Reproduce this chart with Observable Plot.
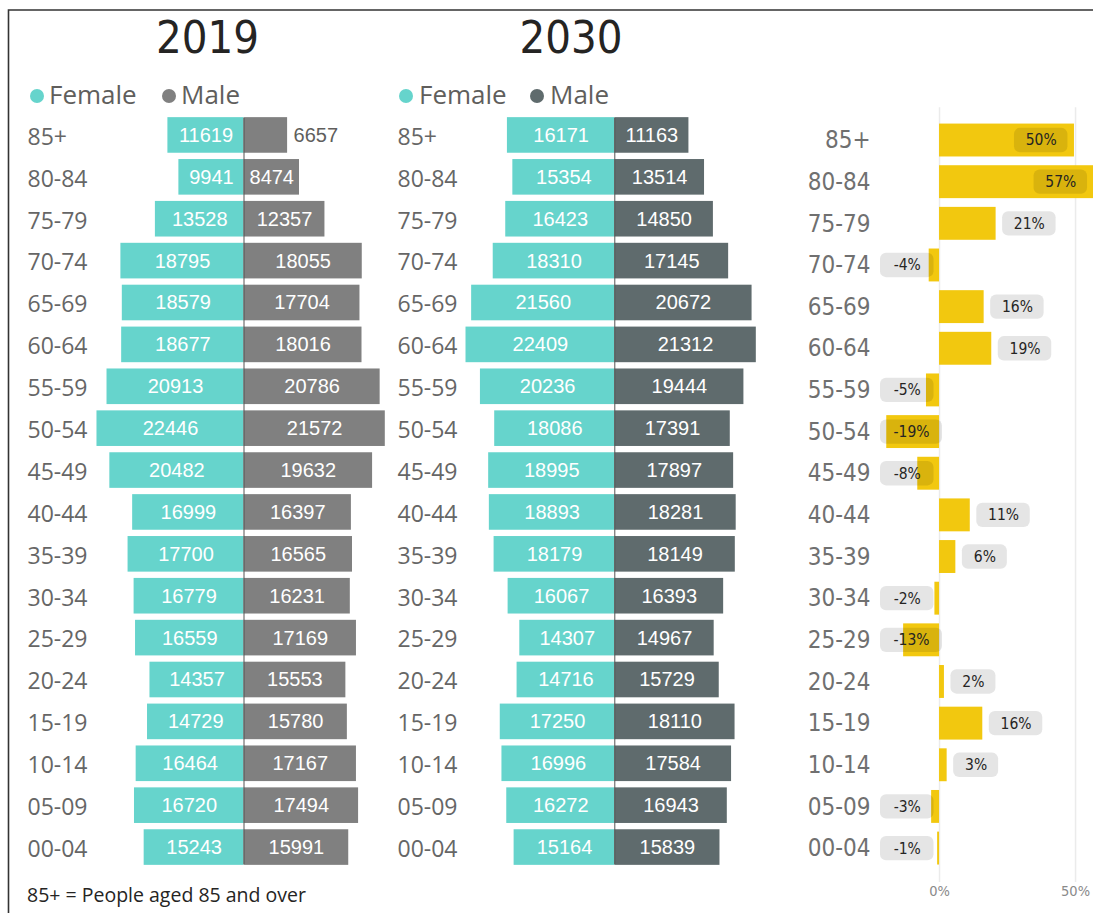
<!DOCTYPE html>
<html>
<head>
<meta charset="utf-8">
<script src="https://cdn.jsdelivr.net/npm/d3@7"></script>
<script src="https://cdn.jsdelivr.net/npm/@observablehq/plot@0.6"></script>
<style>
  body { margin: 0; background: #fff; }
  #root { position: relative; width: 1093px; height: 913px; overflow: hidden; background: #fff; }
  .panel { position: absolute; top: 0; }
  #overlay { position: absolute; left: 0; top: 0; pointer-events: none; }
</style>
</head>
<body>
<div id="root"></div>
<script>
// ---------------- data ----------------
const ages = ["85+","80-84","75-79","70-74","65-69","60-64","55-59","50-54","45-49","40-44","35-39","30-34","25-29","20-24","15-19","10-14","05-09","00-04"];
const female2019 = [11619,9941,13528,18795,18579,18677,20913,22446,20482,16999,17700,16779,16559,14357,14729,16464,16720,15243];
const male2019   = [6657,8474,12357,18055,17704,18016,20786,21572,19632,16397,16565,16231,17169,15553,15780,17167,17494,15991];
const female2030 = [16171,15354,16423,18310,21560,22409,20236,18086,18995,18893,18179,16067,14307,14716,17250,16996,16272,15164];
const male2030   = [11163,13514,14850,17145,20672,21312,19444,17391,17897,18281,18149,16393,14967,15729,18110,17584,16943,15839];
const changePct  = [49.6,56.8,20.8,-3.8,16.4,19.2,-4.8,-19.4,-8.0,11.3,6.0,-1.7,-13.2,1.8,15.9,2.8,-2.9,-0.7];
const pctTicks   = [0, 50];

const FEMALE = "#66D4CC";
const MALE19 = "#808080";
const MALE30 = "#5F6B6D";
const YELLOW = "#F2C80F";
const LABEL_GREY = "#666666";

const root = document.getElementById("root");

function pyramid({female, male, maleColor, left, width, center, k, labelX}) {
  const rows = ages.map((a, i) => ({age: a, female: female[i], male: male[i]}));
  const lo = -23000, hi = 22000;
  const ml = center - (-lo) * k;
  const mr = width - (center + hi * k);
  const fits = d => d.male * k >= 52;
  const plot = Plot.plot({
    width, height: 913,
    marginTop: 114, marginBottom: 45, marginLeft: ml, marginRight: mr,
    style: {background: "transparent", overflow: "visible"},
    x: {domain: [lo, hi], axis: null},
    y: {domain: ages, paddingInner: 0.15, paddingOuter: 0.075, round: false, axis: null},
    marks: [
      Plot.barX(rows, {x1: d => -d.female, x2: 0, y: "age", fill: FEMALE}),
      Plot.barX(rows, {x1: 0, x2: "male", y: "age", fill: maleColor}),
      Plot.ruleX([0], {stroke: "#555", strokeWidth: 1, insetTop: 4, insetBottom: 4}),
      Plot.text(rows, {x: d => -d.female / 2, y: "age", text: d => String(d.female),
        fill: "white", fontSize: 20, fontFamily: "Liberation Sans, Arial, sans-serif"}),
      Plot.text(rows.filter(fits), {x: d => d.male / 2, y: "age", text: d => String(d.male),
        fill: "white", fontSize: 20, fontFamily: "Liberation Sans, Arial, sans-serif"}),
      Plot.text(rows.filter(d => !fits(d)), {x: "male", y: "age", text: d => String(d.male), dx: 6,
        textAnchor: "start", fill: "#605e5c", fontSize: 20, fontFamily: "Liberation Sans, Arial, sans-serif"}),
      Plot.text(ages, {y: d => d, text: d => d, frameAnchor: "left", textAnchor: "start",
        dx: labelX - ml, dy: 2, fill: LABEL_GREY, fontSize: 23, fontFamily: "Open Sans, sans-serif"})
    ]
  });
  plot.classList.add("panel");
  plot.style.left = left + "px";
  root.appendChild(plot);
}

pyramid({female: female2019, male: male2019, maleColor: MALE19, left: 0, width: 390, center: 243.5, k: 0.00655, labelX: 27});
pyramid({female: female2030, male: male2030, maleColor: MALE30, left: 390, width: 380, center: 224.3, k: 0.00664, labelX: 7});

// ------------- percent change panel -------------
(function () {
  const width = 323, ml = 110, mr = 0;
  const lo = -21.7, hi = 56.6;
  const ppu = (width - ml - mr) / (hi - lo);
  const rows = ages.map((a, i) => ({age: a, v: changePct[i], label: Math.round(changePct[i]) + "%"}));
  const pills = rows.map(d => {
    const w = (28 + 8.5 * d.label.length) / ppu;
    const gap = 6.5 / ppu;
    let x1, x2;
    if (d.v >= 0) {
      x1 = d.v + gap; x2 = x1 + w;
      if (x2 > hi) { x2 = d.v - gap; x1 = x2 - w; }
    } else {
      x2 = d.v - gap; x1 = x2 - w;
      if (x1 < lo) { x1 = lo; x2 = lo + w; }
    }
    return {...d, x1, x2};
  });
  const F = "DejaVu Sans Condensed, DejaVu Sans, sans-serif";
  const plot = Plot.plot({
    width, height: 913,
    marginTop: 119.2, marginBottom: 44.1, marginLeft: ml, marginRight: mr,
    style: {background: "transparent", overflow: "visible"},
    x: {domain: [lo, hi], axis: null},
    y: {domain: ages, paddingInner: 0.21, paddingOuter: 0.105, round: false, axis: null},
    marks: [
      Plot.ruleX(pctTicks, {stroke: "#ebebeb", strokeWidth: 1.5, insetTop: -12, insetBottom: -13}),
      Plot.barX(rows, {x1: 0, x2: "v", y: "age", fill: YELLOW}),
      Plot.barX(pills, {x1: "x1", x2: "x2", y: "age", fill: "black", fillOpacity: 0.1, rx: 6, insetTop: 4.3, insetBottom: 4.3}),
      Plot.text(pills, {x: d => (d.x1 + d.x2) / 2, y: "age", text: "label", fill: "#252423", fontSize: 15.5, fontFamily: F}),
      Plot.text(ages, {y: d => d, text: d => d, frameAnchor: "left", textAnchor: "end", dx: -10,
        fill: "#707070", fontSize: 24, fontFamily: F}),
      Plot.text(pctTicks, {x: d => d, text: d => d + "%", frameAnchor: "bottom", dy: 27,
        fill: "#8a8a8a", fontSize: 14.5, fontFamily: F})
    ]
  });
  plot.classList.add("panel");
  plot.style.left = "770px";
  root.appendChild(plot);
})();

// ------------- titles, legends, footnote, frame -------------
(function () {
  const svg = d3.select(root).append("svg").attr("id", "overlay").attr("width", 1093).attr("height", 913);
  svg.append("path").attr("d", "M8.5,913V10H1093").attr("fill", "none").attr("stroke", "#333").attr("stroke-width", 1.6);
  const titles = [{t: "2019", x: 207.5}, {t: "2030", x: 571}];
  svg.selectAll("text.title").data(titles).join("text").attr("class", "title")
    .attr("x", d => d.x).attr("y", 53).attr("text-anchor", "middle")
    .attr("font-family", "DejaVu Sans Condensed, sans-serif").attr("font-size", 45).attr("fill", "#252423")
    .text(d => d.t);
  const legend = [
    {cx: 37, tx: 49, label: "Female", color: FEMALE},
    {cx: 169, tx: 181, label: "Male", color: MALE19},
    {cx: 406, tx: 419, label: "Female", color: FEMALE},
    {cx: 537, tx: 550, label: "Male", color: MALE30}
  ];
  svg.selectAll("circle.lg").data(legend).join("circle").attr("class", "lg")
    .attr("cx", d => d.cx).attr("cy", 96).attr("r", 7).attr("fill", d => d.color);
  svg.selectAll("text.lg").data(legend).join("text").attr("class", "lg")
    .attr("x", d => d.tx).attr("y", 104)
    .attr("font-family", "Open Sans, sans-serif").attr("font-size", 26).attr("fill", "#605e5c")
    .text(d => d.label);
  svg.append("text").attr("x", 27).attr("y", 902)
    .attr("font-family", "Open Sans, sans-serif").attr("font-size", 19.5).attr("fill", "#252423")
    .text("85+ = People aged 85 and over");
})();
</script>
</body>
</html>
